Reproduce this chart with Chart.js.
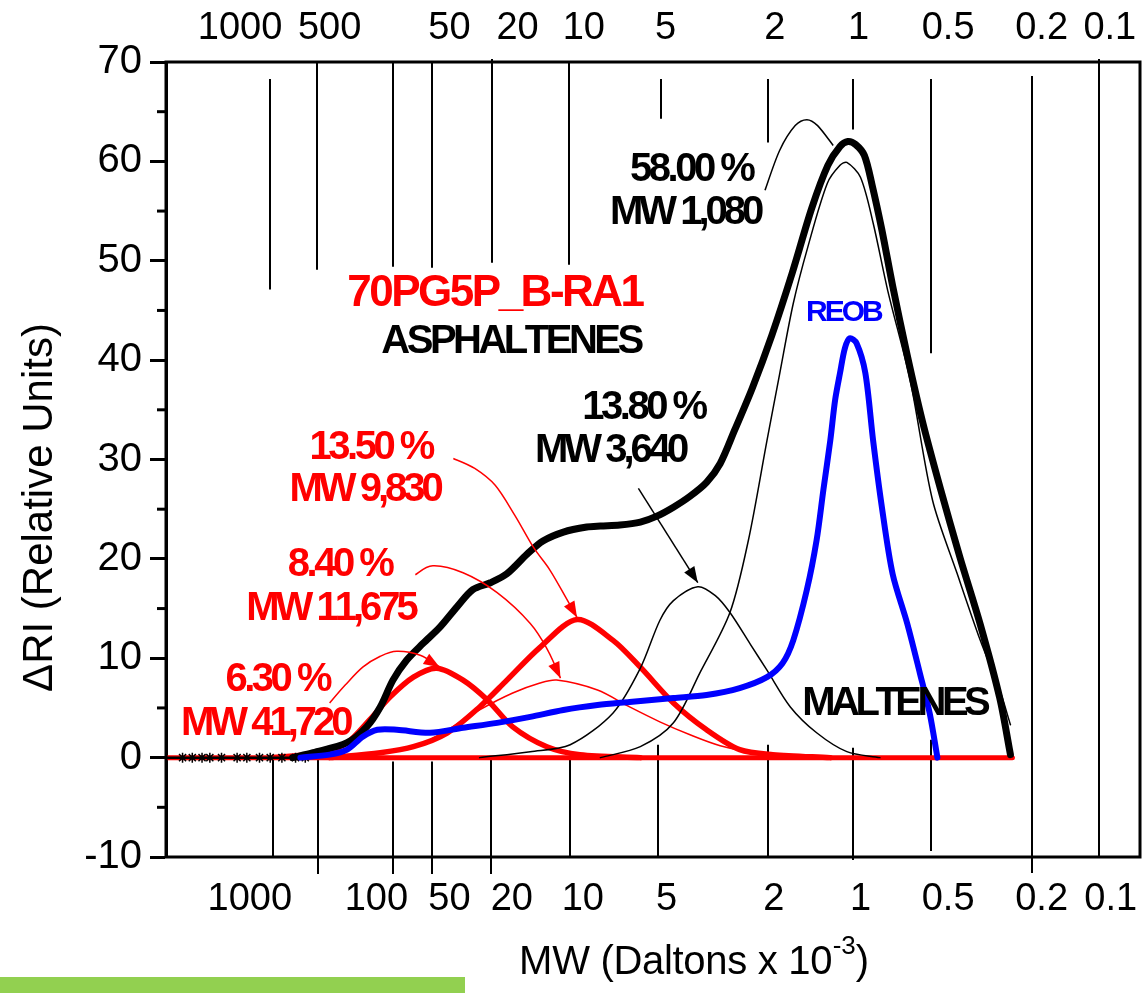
<!DOCTYPE html>
<html><head><meta charset="utf-8">
<script src="https://cdn.jsdelivr.net/npm/chart.js@4/dist/chart.umd.min.js"></script>
<style>html,body{margin:0;padding:0;background:#fff;}canvas{display:block;}</style>
</head><body>
<canvas id="c" width="1148" height="993"></canvas>
<script>
// ---------- DATA (x = elution position, arbitrary linear units 0..100; y = ΔRI) ----------
const totalBase = [[0,0],[13.0,0]];
const totalCurve = [[13.0,0],[15.1,0.5],[18.6,1.5],[20.6,3.1],[22.0,5.1],[23.3,7.8],[24.7,9.8],[26.4,11.5],[28.1,13.1],[29.9,15.2],[31.5,16.9],[33.3,17.6],[35.0,18.5],[37.1,20.5],[38.7,21.8],[40.8,22.7],[43.2,23.2],[44.6,23.3],[46.6,23.4],[48.7,23.7],[50.4,24.3],[52.1,25.2],[53.8,26.3],[55.5,27.7],[56.9,29.6],[58.4,33.0],[60.2,37.2],[62.2,42.5],[64.3,48.8],[66.3,55.3],[67.95,59.6],[69.2,61.5],[70.0,62.0],[70.8,61.7],[71.7,60.6],[72.5,57.6],[73.5,53.1],[74.6,47.5],[76.1,40.5],[77.7,33.7],[79.5,27.1],[81.5,20.2],[83.6,13.4],[85.6,6.0],[86.7,0.3]];
const malteneFit = [[44.6,0],[48.7,1.1],[52.1,3.5],[54.8,8.5],[57.9,14.6],[59.8,21.9],[61.7,31.9],[63.0,38.6],[64.4,45.7],[65.9,51.4],[67.9,57.8],[69.2,59.6],[69.9,59.9],[71.3,58.4],[72.6,53.8],[74.1,47.0],[76.4,38.0],[78.7,25.9],[81.2,18.6],[83.6,11.8],[85.6,6.8],[86.7,3.3]];
const asph3640 = [[32.2,0],[37.4,0.6],[41.5,1.3],[45.9,4.5],[48.7,9.0],[50.7,13.8],[52.1,15.8],[54.6,17.2],[56.4,16.3],[57.9,14.6],[60.0,11.4],[61.7,8.8],[64.1,5.1],[66.8,2.5],[69.9,0.6],[73.3,0]];
const asph9830 = [[16.8,0],[22.0,0.5],[25.4,1.1],[28.9,2.5],[32.2,5.1],[35.0,7.8],[38.4,11.1],[42.2,13.9],[45.9,11.8],[48.7,9.1],[52.1,5.5],[55.5,2.8],[58.9,0.8],[62.3,0.3],[68.2,0]];
const asph11675 = [[16.8,0],[25.4,1.1],[28.9,2.8],[32.2,4.8],[35.6,6.5],[38.4,7.5],[40.1,7.8],[44.3,6.8],[47.6,5.1],[50.7,3.6],[53.8,2.3],[56.9,1.2],[61.0,0.4],[65.1,0]];
const asph41720 = [[10.7,0],[16.1,0.5],[18.6,1.5],[20.9,3.8],[23.0,6.1],[25.4,8.1],[27.8,9.0],[30.5,7.8],[33.0,5.8],[35.6,3.1],[39.1,1.1],[42.5,0.3],[48.7,0]];
const reobCurve = [[13.8,0],[16.8,0.3],[18.6,0.8],[20.2,2.1],[21.7,2.8],[23.7,2.8],[27.1,2.5],[30.5,3.0],[34.0,3.5],[37.4,4.1],[40.8,4.8],[44.3,5.3],[47.6,5.6],[52.1,6.0],[55.5,6.3],[58.9,7.0],[61.7,8.1],[63.3,9.5],[64.4,11.8],[65.8,16.9],[66.8,21.9],[67.5,27.0],[68.2,31.9],[68.7,36.0],[69.2,38.7],[69.7,41.2],[70.2,42.2],[70.9,41.7],[71.8,38.7],[72.6,31.9],[73.5,25.2],[74.6,18.5],[76.1,13.5],[77.4,8.5],[78.4,4.5],[79.2,0]];
const baseline = [[0,0],[86.9,0]];
const noiseX = [1.7,2.7,3.7,4.5,5.7,7.3,8.3,9.6,10.7,11.9,13.3,14.3];

const yMinor = [-5,5,15,25,35,45,55,65];
const mwTopLabels = ['1000','500','50','20','10','5','2','1','0.5','0.2','0.1'];
const mwTopLabelX = [7.6,16.8,29.1,36.1,42.9,51.3,62.5,71.1,80.3,89.9,96.9];
const mwBotLabels = ['1000','100','50','20','10','5','2','1','0.5','0.2','0.1'];
const mwBotLabelX = [8.6,21.6,29.1,35.5,42.8,51.4,62.4,71.3,80.3,89.9,97.0];
const mwTopLineX  = [10.7,15.5,23.3,27.3,33.5,41.4,50.8,61.8,70.5,78.5,88.9,95.8];
const mwTopLineY0 = [68.3,70,70,70,70.3,70,68.3,68.3,68.3,68.3,68.6,70.3];
const mwTopLineY1 = [47.1,49.1,49.4,49.3,49.8,49.6,64.3,61.9,63.2,40.7,-11.6,-10];
const mwBotLineX  = [11.0,15.6,23.3,27.3,33.4,41.5,50.5,61.8,70.5,78.5];
const mwBotLineY0 = [0,0,-0.4,-0.4,-0.2,-0.2,1.3,1.3,1.0,1.8];
const mwBotLineY1 = [-10,-11.7,-11.7,-11.7,-11.7,-10,-10,-10,-10.3,-9.4];

// annotation text (value coordinates)
const notes = [
  {t:'70PG5P_B-RA1', x:33.9, y:46.7, c:'#ff0000', s:44, sp:-2.5},
  {t:'ASPHALTENES',  x:35.6, y:41.8, c:'#000000', s:40, sp:-3.5},
  {t:'13.80 %',      x:49.2, y:35.2, c:'#000000', s:40, sp:-3.5},
  {t:'MW 3,640',     x:45.8, y:30.9, c:'#000000', s:40, sp:-4},
  {t:'13.50 %',      x:21.2, y:31.2, c:'#ff0000', s:40, sp:-3.5},
  {t:'MW 9,830',     x:20.6, y:26.9, c:'#ff0000', s:40, sp:-4},
  {t:'58.00 %',      x:54.1, y:59.1, c:'#000000', s:40, sp:-3.5},
  {t:'MW 1,080',     x:53.5, y:54.8, c:'#000000', s:40, sp:-4},
  {t:'8.40 %',       x:18.0, y:19.4, c:'#ff0000', s:40, sp:-3.5},
  {t:'MW 11,675',    x:17.1, y:15.0, c:'#ff0000', s:40, sp:-4},
  {t:'6.30 %',       x:11.6, y:7.8,  c:'#ff0000', s:40, sp:-3.5},
  {t:'MW 41,720',    x:10.4, y:3.4,  c:'#ff0000', s:40, sp:-4},
  {t:'REOB',         x:69.7, y:44.8, c:'#0000ff', s:30, sp:-3},
  {t:'MALTENES',     x:75.0, y:5.4,  c:'#000000', s:40, sp:-4.5}
];
// leader curves / arrows (value coordinates)
const leaders = [
  {c:'#000000', head:false, pts:[[61.5,57.1],[63.0,61.1],[64.6,63.6],[65.8,64.2],[66.9,63.6],[68.5,61.6]]},
  {c:'#ff0000', head:true,  pts:[[29.5,30.1],[31.7,29.1],[33.8,27.4],[35.8,24.4],[37.7,21.2],[39.4,18.9],[41.0,16.2],[42.2,14.1]]},
  {c:'#ff0000', head:true,  pts:[[25.6,18.4],[27.4,19.3],[30.5,18.6],[34.0,16.6],[37.4,13.5],[39.2,10.8],[40.5,8.0]]},
  {c:'#ff0000', head:true,  pts:[[16.8,5.5],[18.4,7.3],[20.2,9.1],[22.0,10.2],[23.7,10.7],[26.1,10.3],[28.1,9.1]]},
  {c:'#000000', head:true,  pts:[[48.5,27.1],[54.6,17.6]]}
];

const FONT = '"Liberation Sans", Arial, Helvetica, sans-serif';
const toXY = a => a.map(p => ({x:p[0], y:p[1]}));

function spaced(ctx, text, cx, cy, sp){
  const ch = [...text];
  const w = ch.map(c => ctx.measureText(c).width);
  const total = w.reduce((a,b)=>a+b,0) + sp*(ch.length-1);
  let x = cx - total/2;
  ctx.textAlign = 'left'; ctx.textBaseline = 'middle';
  ch.forEach((c,i)=>{ ctx.fillText(c, x, cy); x += w[i] + sp; });
}
function smoothPath(ctx, P){
  ctx.beginPath(); ctx.moveTo(P[0][0],P[0][1]);
  if (P.length === 2){ ctx.lineTo(P[1][0],P[1][1]); return; }
  for (let i=0;i<P.length-1;i++){
    const p0=P[Math.max(i-1,0)], p1=P[i], p2=P[i+1], p3=P[Math.min(i+2,P.length-1)];
    const c1=[p1[0]+(p2[0]-p0[0])/6, p1[1]+(p2[1]-p0[1])/6];
    const c2=[p2[0]-(p3[0]-p1[0])/6, p2[1]-(p3[1]-p1[1])/6];
    ctx.bezierCurveTo(c1[0],c1[1],c2[0],c2[1],p2[0],p2[1]);
  }
}

const decor = {
  id:'decor',
  beforeDatasetsDraw(chart){
    const {ctx, scales:{x,y}} = chart;
    ctx.save();
    ctx.strokeStyle = '#000'; ctx.lineWidth = 2; ctx.lineCap='butt';
    mwTopLineX.forEach((v,i)=>{
      const px = Math.round(x.getPixelForValue(v));
      ctx.beginPath(); ctx.moveTo(px, y.getPixelForValue(mwTopLineY0[i])); ctx.lineTo(px, y.getPixelForValue(mwTopLineY1[i])); ctx.stroke();
    });
    mwBotLineX.forEach((v,i)=>{
      const px = Math.round(x.getPixelForValue(v));
      ctx.beginPath(); ctx.moveTo(px, y.getPixelForValue(mwBotLineY0[i])); ctx.lineTo(px, y.getPixelForValue(mwBotLineY1[i])); ctx.stroke();
    });
    ctx.restore();
  },
  afterDatasetsDraw(chart){
    const {ctx, chartArea:a, scales:{x,y}} = chart;
    ctx.save();
    // frame
    ctx.strokeStyle='#000'; ctx.lineWidth=3;
    ctx.strokeRect(a.left, a.top, a.right-a.left, a.bottom-a.top);
    // minor y ticks
    yMinor.forEach(v=>{ const py=y.getPixelForValue(v); ctx.beginPath(); ctx.moveTo(a.left-9,py); ctx.lineTo(a.left,py); ctx.stroke(); });
    // MW labels
    ctx.fillStyle='#000'; ctx.font='38px '+FONT; ctx.textAlign='center'; ctx.textBaseline='middle';
    mwTopLabels.forEach((t,i)=> ctx.fillText(t, x.getPixelForValue(mwTopLabelX[i]), y.getPixelForValue(73.4)));
    mwBotLabels.forEach((t,i)=> ctx.fillText(t, x.getPixelForValue(mwBotLabelX[i]), y.getPixelForValue(-14.3)));
    // leaders
    leaders.forEach(L=>{
      const P = L.pts.map(p=>[x.getPixelForValue(p[0]), y.getPixelForValue(p[1])]);
      ctx.strokeStyle=L.c; ctx.fillStyle=L.c; ctx.lineWidth=1.5;
      const end = P[P.length-1], prev = P[P.length-2];
      const ang = Math.atan2(end[1]-prev[1], end[0]-prev[0]);
      const HL=16, HW=6;
      smoothPath(ctx, P); ctx.stroke();
      if (L.head){
        ctx.beginPath();
        ctx.moveTo(end[0], end[1]);
        ctx.lineTo(end[0]-HL*Math.cos(ang)+HW*Math.sin(ang), end[1]-HL*Math.sin(ang)-HW*Math.cos(ang));
        ctx.lineTo(end[0]-HL*Math.cos(ang)-HW*Math.sin(ang), end[1]-HL*Math.sin(ang)+HW*Math.cos(ang));
        ctx.closePath(); ctx.fill();
      }
    });
    // annotations
    notes.forEach(n=>{
      ctx.fillStyle=n.c; ctx.font='bold '+n.s+'px '+FONT;
      spaced(ctx, n.t, x.getPixelForValue(n.x), y.getPixelForValue(n.y), n.sp);
    });
    // y title
    ctx.save();
    ctx.translate(40, (a.top+a.bottom)/2 + 48);
    ctx.rotate(-Math.PI/2);
    ctx.fillStyle='#000'; ctx.font='42px '+FONT; ctx.textAlign='center'; ctx.textBaseline='middle';
    ctx.fillText('\u0394RI (Relative Units)', 0, 0);
    ctx.restore();
    // x title with superscript
    ctx.fillStyle='#000';
    const main='MW (Daltons x 10', sup='-3', close=')';
    ctx.font='40px '+FONT; const w1=ctx.measureText(main).width - 4, w3=ctx.measureText(close).width;
    ctx.font='26px '+FONT; const w2=ctx.measureText(sup).width;
    const sx = 694 - (w1+w2+w3)/2, cy = 963;
    ctx.font='40px '+FONT; spaced(ctx, main, sx + w1/2, cy, -0.3);
    ctx.font='26px '+FONT; ctx.textAlign='left'; ctx.fillText(sup, sx+w1, cy-16);
    ctx.font='40px '+FONT; ctx.fillText(close, sx+w1+w2, cy);
    // green bar
    ctx.fillStyle='#92d050'; ctx.fillRect(0, 977, 465, 16);
    ctx.restore();
  }
};

const common = {pointRadius:0, fill:false, tension:0.3, borderJoinStyle:'round', borderCapStyle:'round'};
new Chart(document.getElementById('c'), {
  type:'line',
  data:{ datasets:[
    {...common, label:'REOB', data:toXY(reobCurve), borderColor:'#0000ff', borderWidth:6, order:1},
    {...common, label:'Total', data:toXY(totalCurve), borderColor:'#000', borderWidth:7, order:2},
    {...common, label:'Total (baseline)', data:toXY(totalBase), borderColor:'#000', borderWidth:2.5, order:3},
    {label:'noise', data:noiseX.map(v=>({x:v,y:0})), showLine:false, pointStyle:'star', pointRadius:5, borderColor:'#000', borderWidth:1.5, order:3},
    {...common, label:'58.00 %', data:toXY(malteneFit), borderColor:'#000', borderWidth:1.5, order:4},
    {...common, label:'13.80 %', data:toXY(asph3640), borderColor:'#000', borderWidth:1.5, order:5},
    {...common, label:'13.50 %', data:toXY(asph9830), borderColor:'#ff0000', borderWidth:5.5, order:6},
    {...common, label:'8.40 %', data:toXY(asph11675), borderColor:'#ff0000', borderWidth:1.5, order:7},
    {...common, label:'6.30 %', data:toXY(asph41720), borderColor:'#ff0000', borderWidth:5.5, order:8},
    {...common, label:'baseline', data:toXY(baseline), borderColor:'#ff0000', borderWidth:5, order:9}
  ]},
  plugins:[decor],
  options:{
    responsive:false, devicePixelRatio:1, animation:false, events:[],
    layout:{padding:{top:62, right:8, bottom:136, left:0}},
    plugins:{legend:{display:false}, tooltip:{enabled:false}},
    scales:{
      x:{type:'linear', min:0, max:100, display:false},
      y:{type:'linear', min:-10, max:70,
         afterFit(s){ s.width = 166; },
         ticks:{stepSize:10, color:'#000', padding:8, font:{family:FONT, size:40}},
         grid:{drawOnChartArea:false, drawTicks:true, tickLength:16, tickWidth:3, tickColor:'#000'},
         border:{display:true, color:'#000', width:3}
      }
    }
  }
});
</script>
</body></html>
